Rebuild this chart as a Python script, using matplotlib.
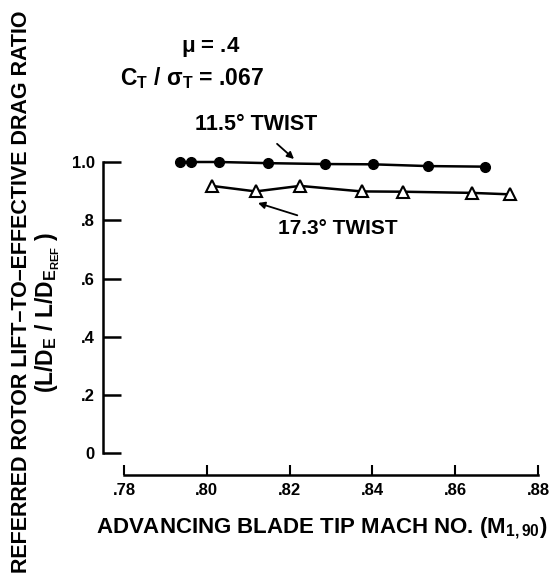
import matplotlib.pyplot as plt

plt.rcParams['font.family'] = ['Liberation Sans', 'DejaVu Sans']
plt.rcParams['font.weight'] = 'bold'
plt.rcParams['mathtext.fontset'] = 'custom'
plt.rcParams['mathtext.rm'] = 'Liberation Sans:bold'
plt.rcParams['mathtext.it'] = 'Liberation Sans:bold'
plt.rcParams['mathtext.bf'] = 'Liberation Sans:bold'
plt.rcParams['mathtext.default'] = 'rm'

# 11.5 deg twist (filled circles)
mach_115 = [0.7935, 0.7963, 0.8030, 0.8149, 0.8286, 0.8402, 0.8534, 0.8672]
ratio_115 = [1.000, 1.000, 1.000, 0.996, 0.993, 0.992, 0.986, 0.984]

# 17.3 deg twist (open triangles)
mach_173 = [0.8012, 0.8118, 0.8225, 0.8374, 0.8473, 0.8640, 0.8732]
ratio_173 = [0.918, 0.899, 0.918, 0.899, 0.898, 0.894, 0.889]

xticks = [0.78, 0.80, 0.82, 0.84, 0.86, 0.88]
xtick_labels = ['.78', '.80', '.82', '.84', '.86', '.88']
yticks = [0, 0.2, 0.4, 0.6, 0.8, 1.0]
ytick_labels = ['0', '.2', '.4', '.6', '.8', '1.0']

W, H = 558, 578
fig = plt.figure(figsize=(W / 100, H / 100), dpi=100)
ax = fig.add_axes([124 / W, 1 - 453.3 / H, 414 / W, 291.3 / H])

ax.plot(mach_115, ratio_115, color='black', lw=1.8, marker='o', ms=7,
        mfc='black', mec='black', clip_on=False, zorder=3)
ax.plot(mach_173, ratio_173, color='black', lw=1.8, marker='^', ms=8,
        mfc='white', mec='black', mew=1.5, clip_on=False, zorder=3)

ax.set_xlim(0.78, 0.88)
ax.set_ylim(0, 1.0)

for s in ['top', 'right']:
    ax.spines[s].set_visible(False)
ax.spines['left'].set_position(('outward', 14.9))
ax.spines['bottom'].set_position(('outward', 15.6))
ax.spines['left'].set_bounds(0, 1.0)
ax.spines['bottom'].set_bounds(0.78, 0.88)
ax.spines['left'].set_linewidth(1.8)
ax.spines['bottom'].set_linewidth(1.8)

ax.set_xticks(xticks)
ax.set_xticklabels(xtick_labels, fontsize=12, fontweight='bold')
ax.set_yticks(yticks)
ax.set_yticklabels(ytick_labels, fontsize=12, fontweight='bold')
ax.tick_params(axis='y', direction='in', length=13, width=1.8, pad=6)
ax.tick_params(axis='x', direction='in', length=7, width=1.5, pad=6)


def px(x, y):
    return x / W, 1 - y / H


# axis titles
fig.text(*px(22, 292), 'REFERRED ROTOR LIFT\u2013TO\u2013EFFECTIVE DRAG RATIO',
         rotation=90, ha='center', va='center', fontsize=15.5)
fig.text(*px(48, 312), r'(L/D$_\mathrm{E}$ / L/D$_{\mathrm{E}_\mathrm{REF}}$ )',
         rotation=90, ha='center', va='center', fontsize=16.5)
fig.text(*px(322, 528), r'ADVANCING BLADE TIP MACH NO. (M$_\mathrm{1,90}$)',
         ha='center', va='center', fontsize=16)

# test conditions
fig.text(*px(211, 47), r'$\mu$ = .4', ha='center', va='center', fontsize=16)
fig.text(*px(120, 78), r'C$_\mathrm{T}$ / $\sigma_\mathrm{T}$ = .067',
         ha='left', va='center', fontsize=16.5)

# curve labels
ax.annotate('11.5\u00b0 TWIST', xy=px(294, 159), xycoords='figure fraction',
            xytext=px(256, 125), textcoords='figure fraction',
            ha='center', va='center', fontsize=15.5,
            arrowprops=dict(arrowstyle='-|>', color='black', lw=1.3,
                            shrinkA=6, shrinkB=0, mutation_scale=10))
ax.annotate('17.3\u00b0 TWIST', xy=px(258, 203), xycoords='figure fraction',
            xytext=px(278, 228), textcoords='figure fraction',
            ha='left', va='center', fontsize=15,
            arrowprops=dict(arrowstyle='-|>', color='black', lw=1.3,
                            shrinkA=1, shrinkB=0, mutation_scale=10))

fig.savefig('out.png', dpi=100)
